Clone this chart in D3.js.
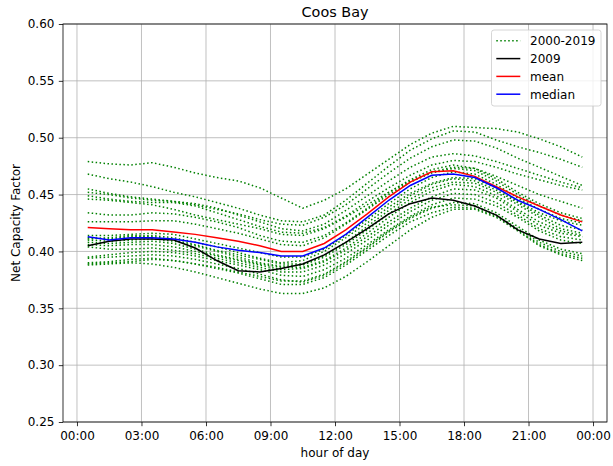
<!DOCTYPE html>
<html><head><meta charset="utf-8">
<script src="https://cdn.jsdelivr.net/npm/d3@7"></script>
<style>body{margin:0;background:#fff}text{font-family:"DejaVu Sans",sans-serif}</style>
</head><body><svg id="c" width="613" height="466"></svg>
<script>
const hours = [0.5,1.5,2.5,3.5,4.5,5.5,6.5,7.5,8.5,9.5,10.5,11.5,12.5,13.5,14.5,15.5,16.5,17.5,18.5,19.5,20.5,21.5,22.5,23.5];
const xTicks = [0,3,6,9,12,15,18,21,24];
const xTickLabels = ["00:00","03:00","06:00","09:00","12:00","15:00","18:00","21:00","00:00"];
const yTicks = [0.25,0.30,0.35,0.40,0.45,0.50,0.55,0.60];
const legendLabels = ["2000-2019","2009","mean","median"];
const years = [
[0.479,0.477,0.476,0.478,0.474,0.469,0.465,0.462,0.456,0.447,0.438,0.445,0.455,0.468,0.481,0.494,0.504,0.510,0.509,0.508,0.505,0.499,0.492,0.483],
[0.468,0.464,0.461,0.457,0.452,0.448,0.443,0.438,0.432,0.427,0.426,0.432,0.445,0.460,0.475,0.489,0.499,0.506,0.505,0.498,0.492,0.487,0.481,0.474],
[0.455,0.451,0.448,0.446,0.444,0.441,0.437,0.433,0.428,0.424,0.423,0.430,0.441,0.455,0.469,0.482,0.492,0.498,0.497,0.491,0.482,0.474,0.466,0.458],
[0.452,0.450,0.447,0.445,0.444,0.442,0.438,0.432,0.426,0.420,0.418,0.424,0.436,0.449,0.462,0.474,0.483,0.486,0.484,0.479,0.473,0.467,0.461,0.456],
[0.449,0.446,0.444,0.443,0.443,0.440,0.434,0.428,0.422,0.417,0.416,0.421,0.431,0.444,0.456,0.467,0.476,0.480,0.479,0.474,0.468,0.463,0.458,0.454],
[0.446,0.445,0.443,0.441,0.437,0.432,0.428,0.424,0.420,0.415,0.414,0.420,0.430,0.441,0.452,0.462,0.470,0.474,0.473,0.466,0.458,0.450,0.444,0.438],
[0.434,0.432,0.432,0.434,0.433,0.430,0.426,0.421,0.414,0.409,0.408,0.414,0.425,0.438,0.452,0.463,0.472,0.476,0.473,0.464,0.452,0.442,0.434,0.429],
[0.426,0.426,0.426,0.427,0.427,0.424,0.420,0.416,0.411,0.406,0.405,0.412,0.424,0.437,0.450,0.461,0.469,0.473,0.471,0.462,0.450,0.440,0.432,0.427],
[0.414,0.414,0.415,0.416,0.415,0.411,0.407,0.403,0.399,0.395,0.395,0.402,0.414,0.428,0.442,0.455,0.465,0.470,0.468,0.459,0.447,0.437,0.429,0.425],
[0.412,0.411,0.413,0.414,0.412,0.408,0.404,0.399,0.394,0.390,0.392,0.400,0.412,0.425,0.439,0.451,0.460,0.465,0.464,0.456,0.444,0.434,0.427,0.423],
[0.411,0.412,0.414,0.413,0.410,0.406,0.401,0.397,0.393,0.389,0.389,0.396,0.408,0.422,0.436,0.449,0.459,0.464,0.462,0.454,0.443,0.432,0.423,0.419],
[0.410,0.409,0.410,0.411,0.409,0.405,0.400,0.395,0.390,0.387,0.388,0.395,0.406,0.419,0.433,0.446,0.456,0.461,0.460,0.452,0.441,0.430,0.420,0.416],
[0.408,0.407,0.408,0.409,0.407,0.402,0.397,0.393,0.389,0.386,0.386,0.392,0.403,0.416,0.430,0.443,0.453,0.459,0.457,0.449,0.437,0.426,0.418,0.414],
[0.406,0.405,0.406,0.406,0.404,0.400,0.396,0.392,0.388,0.384,0.385,0.391,0.401,0.413,0.426,0.438,0.448,0.455,0.454,0.447,0.435,0.423,0.416,0.413],
[0.404,0.402,0.402,0.403,0.401,0.398,0.394,0.390,0.386,0.382,0.382,0.388,0.398,0.410,0.423,0.435,0.445,0.451,0.450,0.443,0.432,0.420,0.413,0.410],
[0.395,0.397,0.399,0.400,0.399,0.396,0.392,0.388,0.384,0.379,0.378,0.384,0.394,0.406,0.419,0.431,0.441,0.447,0.446,0.440,0.430,0.418,0.410,0.407],
[0.394,0.395,0.396,0.397,0.396,0.393,0.389,0.385,0.380,0.375,0.373,0.379,0.390,0.403,0.417,0.429,0.438,0.443,0.442,0.434,0.422,0.410,0.402,0.398],
[0.390,0.391,0.393,0.394,0.392,0.389,0.386,0.382,0.378,0.374,0.374,0.380,0.391,0.404,0.418,0.430,0.439,0.441,0.440,0.432,0.420,0.408,0.400,0.396],
[0.389,0.390,0.391,0.393,0.392,0.389,0.385,0.381,0.376,0.371,0.371,0.377,0.388,0.401,0.414,0.426,0.434,0.439,0.438,0.431,0.419,0.406,0.398,0.394],
[0.388,0.389,0.390,0.389,0.386,0.382,0.377,0.372,0.367,0.363,0.363,0.368,0.378,0.391,0.405,0.419,0.430,0.437,0.437,0.430,0.418,0.405,0.397,0.392]
];
const y2009 = [0.405,0.409,0.411,0.411,0.410,0.403,0.392,0.383,0.382,0.385,0.389,0.397,0.408,0.420,0.433,0.442,0.447,0.445,0.440,0.432,0.419,0.411,0.407,0.408];
const meanV = [0.421,0.420,0.419,0.419,0.417,0.415,0.412,0.409,0.405,0.400,0.400,0.407,0.419,0.433,0.448,0.461,0.470,0.471,0.466,0.457,0.448,0.440,0.432,0.426];
const medianV = [0.413,0.410,0.412,0.412,0.411,0.408,0.404,0.401,0.399,0.396,0.396,0.403,0.415,0.430,0.445,0.458,0.467,0.468,0.465,0.456,0.445,0.437,0.428,0.418];

const L=63,R=607,T=24,B=422;
const svg=d3.select("#c");
const x=d3.scaleLinear().domain([-0.65,24.65]).range([L,R]);
const y=d3.scaleLinear().domain([0.25,0.60]).range([B,T]);

svg.append("g").selectAll("line").data(xTicks).join("line")
 .attr("x1",d=>x(d)).attr("x2",d=>x(d)).attr("y1",T).attr("y2",B)
 .attr("stroke","#b0b0b0").attr("stroke-width",0.8);
svg.append("g").selectAll("line").data(yTicks).join("line")
 .attr("x1",L).attr("x2",R).attr("y1",d=>y(d)).attr("y2",d=>y(d))
 .attr("stroke","#b0b0b0").attr("stroke-width",0.8);

const line=d3.line().x((d,i)=>x(hours[i])).y(d=>y(d));
const g=svg.append("g");
years.forEach(s=>g.append("path").attr("d",line(s)).attr("fill","none")
 .attr("stroke","#008000").attr("stroke-width",1.5).attr("stroke-dasharray","1.5,2.475"));
g.append("path").attr("d",line(y2009)).attr("fill","none").attr("stroke","#000").attr("stroke-width",1.5);
g.append("path").attr("d",line(meanV)).attr("fill","none").attr("stroke","#ff0000").attr("stroke-width",1.5);
g.append("path").attr("d",line(medianV)).attr("fill","none").attr("stroke","#0000ff").attr("stroke-width",1.5);

const xa=svg.append("g").attr("transform",`translate(0,${B})`)
 .call(d3.axisBottom(x).tickValues(xTicks).tickFormat((d,i)=>xTickLabels[i]).tickSizeOuter(0).tickSize(4.2));
const ya=svg.append("g").attr("transform",`translate(${L},0)`)
 .call(d3.axisLeft(y).tickValues(yTicks).tickFormat(d3.format(".2f")).tickSizeOuter(0).tickSize(4.2).tickPadding(4.4));
[xa,ya].forEach(a=>{a.select(".domain").remove();a.selectAll("text").attr("font-size",12).attr("fill","#000").attr("font-family","DejaVu Sans");a.selectAll("line").attr("stroke","#000").attr("stroke-width",0.8);});
xa.selectAll("text").attr("y",17.6).attr("dy",0);
svg.append("rect").attr("x",L).attr("y",T).attr("width",R-L).attr("height",B-T)
 .attr("fill","none").attr("stroke","#000").attr("stroke-width",0.8);

svg.append("text").attr("x",(L+R)/2).attr("y",16.8).attr("text-anchor","middle").attr("font-size",14.4).text("Coos Bay");
svg.append("text").attr("x",(L+R)/2).attr("y",457).attr("text-anchor","middle").attr("font-size",12).text("hour of day");
svg.append("text").attr("transform",`translate(20,${(T+B)/2}) rotate(-90)`).attr("text-anchor","middle").attr("font-size",12).text("Net Capacity Factor");

const lg=svg.append("g");
lg.append("rect").attr("x",491.5).attr("y",30).attr("width",109.5).attr("height",76).attr("rx",2.5)
 .attr("fill","#fff").attr("fill-opacity",0.8).attr("stroke","#cccccc").attr("stroke-width",0.8);
const styles=[{c:"#008000",d:"1.5,2.475"},{c:"#000",d:null},{c:"#ff0000",d:null},{c:"#0000ff",d:null}];
legendLabels.forEach((t,i)=>{
 const yy=40.8+i*17.8;
 const l=lg.append("line").attr("x1",496.3).attr("x2",520.3).attr("y1",yy).attr("y2",yy).attr("stroke",styles[i].c).attr("stroke-width",1.5);
 if(styles[i].d) l.attr("stroke-dasharray",styles[i].d);
 lg.append("text").attr("x",530).attr("y",yy+4.3).attr("font-size",12).text(t);
});
</script></body></html>
